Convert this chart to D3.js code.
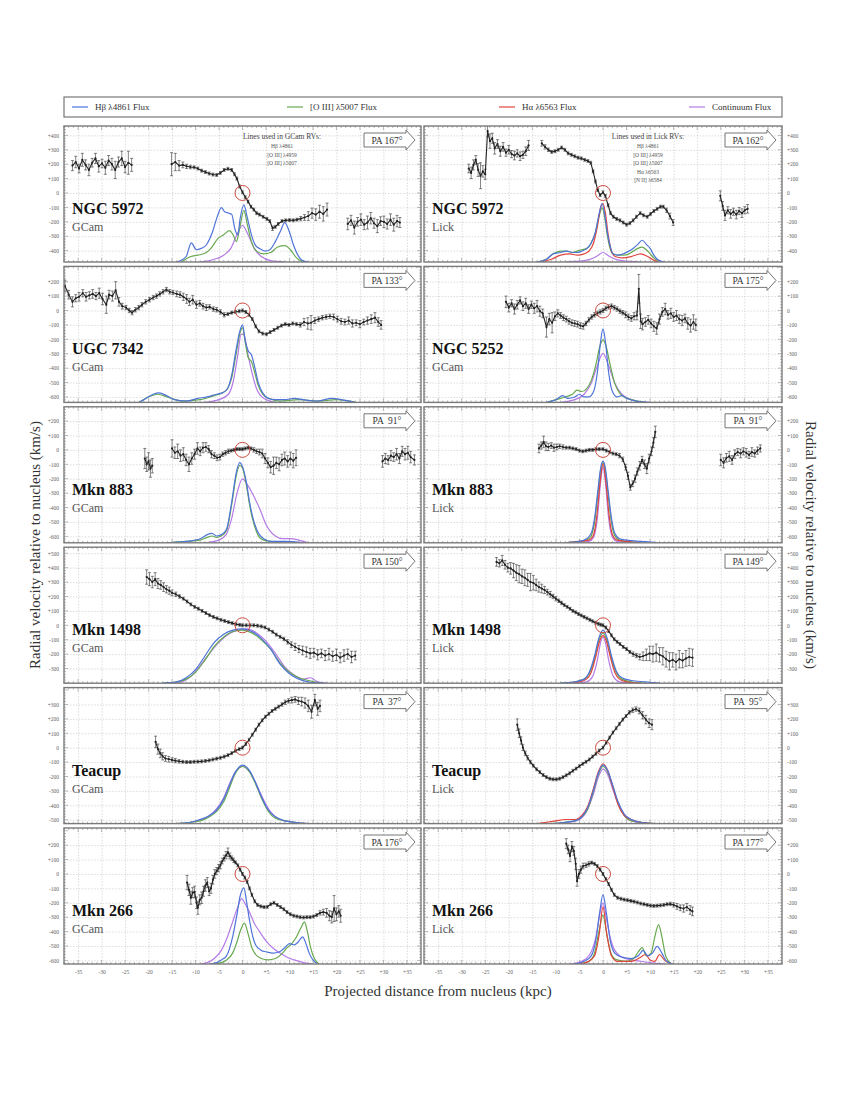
<!DOCTYPE html>
<html>
<head>
<meta charset="utf-8">
<script src="https://cdn.jsdelivr.net/npm/d3@7"></script>
<style>
  body { margin: 0; background: #fff; }
  text { font-family: "Liberation Serif", "Times New Roman", serif; }
</style>
</head>
<body>
<svg id="chart" width="845" height="1093"></svg>
<script>
// tick labels along the distance axis (kpc)
var xTicks = [-35, -30, -25, -20, -15, -10, -5, 0, 5, 10, 15, 20, 25, 30, 35];

var legendLabels = ["H\u03b2 \u03bb4861 Flux", "[O III] \u03bb5007 Flux", "H\u03b1 \u03bb6563 Flux", "Continuum Flux"];
var gcamLines = ["H\u03b2 \u03bb4861", "[O III] \u03bb4959", "[O III] \u03bb5007"];
var lickLines = ["H\u03b2 \u03bb4861", "[O III] \u03bb4959", "[O III] \u03bb5007", "H\u03b1 \u03bb6563", "[N II] \u03bb6584"];

// radial velocities: [kpc, km/s, error]
var ngc5972G_vel = [[-36.2,190,35],[-35.5,215,40],[-34.8,170,30],[-34.1,230,45],[-33.4,195,35],[-32.7,160,40],[-32.0,210,30],[-31.3,240,35],[-30.6,185,40],[-29.9,205,30],[-29.2,175,45],[-28.5,225,35],[-27.8,200,40],[-27.1,160,60],[-26.4,215,35],[-25.7,240,50],[-25.0,180,40],[-24.3,210,80],[-23.6,195,45],
  [-15.1,200,80],[-14.3,215,60],[-13.5,190,35],[-12.7,195,20],[-11.9,185,15],[-11.1,180,12],[-10.3,178,10],[-9.5,170,10],[-8.7,155,10],[-7.9,145,10],[-7.1,135,10],[-6.3,128,10],[-5.5,125,10],[-4.7,140,10],[-3.9,160,10],[-3.1,168,10],[-2.3,160,10],[-1.7,130,10],[-1.2,100,10],[-0.6,45,10],[0,5,10],[0.6,-30,10],[1.2,-60,10],[1.8,-95,10],[2.4,-115,10],[3.0,-140,10],[3.6,-150,10],[4.4,-165,10],[5.2,-180,10],[5.8,-195,10],[6.4,-245,15],[7.0,-235,10],[7.6,-215,10],[8.4,-195,10],[9.2,-190,10],[10.0,-188,10],[10.8,-190,10],[11.6,-185,10],[12.4,-178,15],[13.2,-170,20],[14.0,-160,30],[14.8,-140,35],[15.6,-150,40],[16.4,-130,45],[17.2,-145,50],[18.0,-115,45],
  [22.4,-215,40],[23.1,-190,35],[23.8,-240,45],[24.5,-200,30],[25.2,-185,40],[25.9,-220,35],[26.6,-205,45],[27.3,-175,40],[28.0,-210,35],[28.7,-230,45],[29.4,-195,30],[30.1,-200,40],[30.8,-215,35],[31.5,-185,40],[32.2,-220,45],[32.9,-195,40],[33.5,-205,35]];
var ngc5972L_vel = [[-28.5,170,30],[-28.0,140,40],[-27.5,195,35],[-27.0,230,30],[-26.5,160,45],[-26.0,120,90],[-25.5,150,40],[-25.0,130,35],[-24.5,430,40],[-24.0,360,50],[-23.5,380,35],[-23.0,310,40],[-22.4,340,30],[-21.8,290,35],[-21.2,320,30],[-20.6,280,25],[-20.0,300,30],[-19.4,270,25],[-18.8,260,30],[-18.2,275,25],[-17.6,255,30],[-17.0,265,25],[-16.4,290,30],[-15.8,330,35],
  [-13.0,345,20],[-12.3,320,15],[-11.6,300,12],[-10.9,285,10],[-10.2,290,10],[-9.5,300,10],[-8.8,315,10],[-8.1,300,10],[-7.4,275,10],[-6.7,265,10],[-6.0,255,10],[-5.3,245,10],[-4.6,240,10],[-3.9,230,10],[-3.2,222,10],[-2.6,210,10],[-2.1,150,10],[-1.6,80,10],[-1.1,20,10],[-0.6,-15,10],[0,5,10],[0.5,-20,10],[1.1,-85,10],[1.6,-140,10],[2.2,-165,10],[2.9,-180,10],[3.6,-190,10],[4.3,-205,10],[5.0,-220,10],[5.7,-210,10],[6.4,-190,10],[7.1,-165,10],[7.9,-140,10],[8.6,-155,10],[9.4,-165,10],[10.1,-145,10],[10.8,-125,10],[11.5,-110,10],[12.2,-95,10],[12.8,-95,10],[13.5,-120,15],[14.2,-160,20],[14.9,-205,20],
  [24.9,-20,35],[25.4,-90,30],[25.9,-155,35],[26.5,-120,25],[27.1,-145,30],[27.7,-130,25],[28.3,-150,30],[28.9,-125,25],[29.5,-140,30],[30.1,-120,25],[30.7,-110,30]];
var ugc7342G_vel = [[-37.8,170,40],[-37.0,110,30],[-36.2,60,35],[-35.5,85,25],[-34.8,95,30],[-34.0,120,25],[-33.3,95,30],[-32.6,105,25],[-31.9,115,30],[-31.2,100,25],[-30.5,120,35],[-29.8,80,40],[-29.0,40,60],[-28.4,110,30],[-27.7,100,35],[-27.0,140,60],[-26.3,60,30],[-25.6,30,20],[-24.8,20,15],[-24.1,0,15],[-23.5,-15,15],[-22.8,5,15],[-22.1,20,15],[-21.4,40,15],[-20.6,60,15],[-19.8,75,15],[-19.0,90,15],[-18.3,100,15],[-17.6,115,15],[-16.9,130,15],[-16.2,145,15],[-15.5,130,15],[-14.8,125,15],[-14.0,115,20],[-13.3,110,20],[-12.6,95,25],[-11.9,80,30],[-11.3,60,25],[-10.6,75,30],[-9.8,40,25],[-9.1,50,20],[-8.4,30,20],[-7.7,20,20],[-7.0,25,15],[-6.2,10,15],[-5.5,5,15],[-4.7,-10,15],[-3.9,-30,15],[-3.1,-25,10],[-2.3,-15,10],[-1.5,-10,10],[-0.7,-5,10],[0,0,10],[0.7,-10,10],[1.4,-30,10],[2.1,-60,10],[2.8,-110,10],[3.5,-145,10],[4.3,-160,10],[5.1,-165,10],[5.9,-150,10],[6.7,-135,10],[7.5,-120,10],[8.3,-105,10],[9.1,-95,10],[9.9,-100,10],[10.7,-90,10],[11.5,-95,10],[12.3,-100,15],[13.1,-80,25],[13.9,-90,40],[14.6,-85,50],[15.4,-70,20],[16.2,-60,15],[17.0,-50,15],[17.8,-45,15],[18.6,-40,15],[19.4,-45,20],[20.2,-60,20],[21.0,-75,20],[21.8,-80,20],[22.6,-70,25],[23.4,-90,25],[24.2,-85,20],[25.0,-95,25],[25.8,-80,20],[26.6,-70,25],[27.4,-60,30],[28.2,-50,35],[28.9,-80,30],[29.5,-100,30]];
var ngc5252G_vel = [[-20.6,60,40],[-20.0,20,30],[-19.4,50,25],[-18.8,10,35],[-18.2,40,30],[-17.6,70,25],[-17.0,30,30],[-16.4,50,35],[-15.8,10,30],[-15.2,40,25],[-14.6,15,35],[-14.0,30,40],[-13.4,-5,35],[-12.8,-20,30],[-12.0,-115,70],[-11.4,-60,40],[-10.8,-85,70],[-10.2,-40,30],[-9.6,-20,25],[-9.0,-35,20],[-8.4,-50,20],[-7.8,-60,20],[-7.2,-75,20],[-6.6,-85,20],[-6.0,-90,20],[-5.4,-95,20],[-4.8,-105,20],[-4.2,-110,20],[-3.6,-90,15],[-3.0,-65,15],[-2.4,-45,15],[-1.8,-30,15],[-1.2,-20,15],[-0.6,-10,15],[0,0,15],[0.6,15,15],[1.2,25,15],[1.8,30,15],[2.4,20,15],[3.0,10,15],[3.6,-5,15],[4.2,-15,15],[4.8,-30,20],[5.4,-45,20],[6.0,-55,20],[6.6,-40,25],[7.2,-35,30],[7.6,150,100],[8.0,-75,50],[8.4,-95,40],[9.0,-80,30],[9.6,-65,30],[10.2,-90,30],[10.8,-110,35],[11.4,-125,40],[12.0,-60,35],[12.6,-10,30],[13.2,10,40],[13.8,-30,30],[14.4,-20,35],[15.0,-45,30],[15.6,-35,35],[16.2,-60,30],[16.8,-70,35],[17.4,-55,30],[18.0,-90,40],[18.6,-105,45],[19.2,-80,50],[19.7,-100,40]];
var mkn883G_vel = [[-20.8,-60,70],[-20.4,-100,50],[-20.0,-80,60],[-19.6,-130,60],[-19.2,-110,50],
  [-15.0,10,60],[-14.4,-20,40],[-13.8,-10,50],[-13.2,-40,40],[-12.6,-30,45],[-12.0,-70,40],[-11.4,-100,50],[-10.8,-60,40],[-10.2,-30,35],[-9.6,10,40],[-9.0,-10,30],[-8.4,15,35],[-7.8,20,30],[-7.2,5,25],[-6.6,-30,25],[-6.0,-40,20],[-5.4,-55,20],[-4.8,-50,20],[-4.2,-30,15],[-3.6,-20,15],[-3.0,-10,15],[-2.4,-5,10],[-1.8,0,10],[-1.2,5,10],[-0.6,5,10],[0,5,10],[0.6,10,10],[1.2,15,10],[1.8,10,10],[2.4,0,15],[3.0,-10,15],[3.6,-15,20],[4.2,-25,30],[4.8,-60,35],[5.4,-90,35],[6.0,-120,40],[6.6,-110,60],[7.2,-90,40],[7.8,-100,45],[8.4,-70,40],[9.0,-60,45],[9.6,-80,40],[10.2,-60,45],[10.8,-75,50],[11.4,-55,55],
  [29.8,-80,40],[30.4,-60,35],[31.0,-70,30],[31.6,-40,35],[32.2,-50,30],[32.8,-30,40],[33.4,-60,35],[34.0,-10,35],[34.6,-30,40],[35.2,-20,45],[35.8,-50,40],[36.6,-70,35]];
var mkn883L_vel = [[-13.6,10,30],[-13.1,30,25],[-12.6,55,40],[-12.1,25,30],[-11.6,20,25],[-11.0,30,20],[-10.4,15,25],[-9.8,20,20],[-9.2,25,15],[-8.5,20,15],[-7.8,15,10],[-7.1,15,10],[-6.4,10,10],[-5.7,5,10],[-5.0,-5,10],[-4.3,-10,10],[-3.6,-5,10],[-2.9,0,10],[-2.2,0,10],[-1.5,5,10],[-0.8,5,10],[0,5,10],[0.7,-5,10],[1.4,-15,10],[2.1,-25,10],[2.8,-30,10],[3.5,-40,15],[4.2,-65,15],[4.8,-120,20],[5.3,-180,25],[5.8,-260,20],[6.3,-235,20],[6.8,-200,25],[7.3,-150,25],[7.8,-110,30],[8.3,-70,25],[8.8,-100,30],[9.3,-130,35],[9.8,-60,30],[10.3,-10,30],[10.7,50,35],[11.1,125,40],
  [25.0,-70,40],[25.6,-90,35],[26.2,-55,30],[26.8,-45,35],[27.4,-70,30],[28.0,-30,30],[28.6,-15,25],[29.2,-25,30],[29.8,-10,25],[30.4,-20,30],[31.0,-35,25],[31.6,-15,30],[32.2,-25,25],[32.8,-5,25],[33.4,10,25]];
var mkn1498G_vel = [[-20.4,335,50],[-19.8,320,45],[-19.2,300,40],[-18.6,320,45],[-18.0,290,35],[-17.4,280,30],[-16.8,265,30],[-16.2,250,25],[-15.6,240,25],[-15.0,225,20],[-14.2,215,15],[-13.4,200,12],[-12.6,185,10],[-11.8,165,10],[-11.0,145,10],[-10.2,128,10],[-9.4,115,10],[-8.6,100,10],[-7.8,85,10],[-7.0,70,10],[-6.2,58,10],[-5.4,48,10],[-4.6,38,10],[-3.8,30,10],[-3.0,22,10],[-2.2,15,10],[-1.4,8,10],[-0.6,3,10],[0,0,10],[0.8,0,10],[1.6,0,10],[2.4,0,10],[3.2,-3,10],[4.0,-8,10],[4.8,-15,10],[5.6,-30,10],[6.4,-45,10],[7.2,-65,10],[8.0,-80,10],[8.8,-95,12],[9.6,-115,15],[10.4,-135,20],[11.2,-150,25],[12.0,-165,25],[12.8,-175,30],[13.6,-185,35],[14.4,-195,35],[15.2,-190,30],[16.0,-205,35],[16.8,-195,30],[17.6,-210,35],[18.4,-200,40],[19.2,-215,35],[20.0,-205,40],[20.8,-225,35],[21.6,-210,40],[22.4,-200,35],[23.2,-220,40],[24.0,-210,30]];
var mkn1498L_vel = [[-22.6,440,30],[-22.0,430,25],[-21.4,450,35],[-20.8,420,30],[-20.2,400,30],[-19.6,395,40],[-19.0,380,50],[-18.4,365,55],[-17.8,355,60],[-17.2,340,50],[-16.6,330,55],[-16.0,315,45],[-15.4,300,60],[-14.8,295,50],[-14.2,280,40],[-13.6,265,35],[-13.0,255,30],[-12.4,245,25],[-11.8,230,20],[-11.2,215,20],[-10.6,200,15],[-10.0,185,15],[-9.4,170,12],[-8.8,155,12],[-8.2,140,10],[-7.6,128,10],[-7.0,115,10],[-6.4,100,10],[-5.8,90,10],[-5.2,78,10],[-4.6,68,10],[-4.0,58,10],[-3.4,48,10],[-2.8,38,10],[-2.2,28,10],[-1.6,18,10],[-1.0,10,10],[-0.5,4,10],[0,0,10],[0.6,-15,10],[1.2,-40,10],[1.8,-70,10],[2.4,-97,10],[3.0,-115,10],[3.6,-130,10],[4.3,-150,10],[5.0,-165,10],[5.7,-185,10],[6.4,-200,15],[7.1,-210,15],[7.8,-220,20],[8.5,-215,30],[9.2,-205,40],[9.9,-195,50],[10.6,-200,55],[11.3,-190,60],[12.0,-205,50],[12.7,-215,60],[13.4,-235,55],[14.1,-250,60],[14.8,-240,50],[15.5,-255,55],[16.2,-235,60],[16.9,-245,50],[17.6,-230,55],[18.3,-220,60],[19.0,-225,60]];
var teacupG_vel = [[-18.5,40,40],[-18.0,-10,35],[-17.5,-40,30],[-17.0,-60,25],[-16.4,-75,20],[-15.7,-80,20],[-15.0,-85,15],[-14.3,-90,15],[-13.5,-95,12],[-12.7,-98,10],[-11.9,-100,10],[-11.1,-100,10],[-10.3,-98,10],[-9.5,-97,10],[-8.7,-95,10],[-7.9,-92,10],[-7.1,-88,10],[-6.3,-82,10],[-5.5,-76,10],[-4.7,-70,10],[-3.9,-62,10],[-3.1,-52,10],[-2.3,-38,10],[-1.5,-22,10],[-0.7,-10,10],[0,0,10],[0.7,25,10],[1.4,55,10],[2.1,90,10],[2.8,125,10],[3.5,160,10],[4.2,190,10],[4.9,215,10],[5.6,235,10],[6.3,255,10],[7.0,270,10],[7.7,285,10],[8.4,300,12],[9.1,315,15],[9.8,325,15],[10.5,330,20],[11.2,335,20],[11.9,325,25],[12.6,320,30],[13.3,310,35],[14.0,290,40],[14.7,250,45],[15.4,330,40],[16.0,270,45],[16.5,290,40]];
var teacupL_vel = [[-18.2,160,40],[-17.8,100,30],[-17.4,50,25],[-17.0,0,20],[-16.5,-40,15],[-16.0,-70,15],[-15.4,-100,12],[-14.8,-125,10],[-14.1,-150,10],[-13.4,-170,10],[-12.7,-190,10],[-12.0,-205,10],[-11.3,-215,10],[-10.6,-220,10],[-9.9,-220,10],[-9.2,-215,10],[-8.5,-205,10],[-7.8,-192,10],[-7.1,-178,10],[-6.4,-160,10],[-5.7,-145,10],[-5.0,-128,10],[-4.3,-112,10],[-3.6,-98,10],[-2.9,-82,10],[-2.2,-62,10],[-1.5,-42,10],[-0.8,-20,10],[0,0,10],[0.7,35,10],[1.4,70,10],[2.1,105,10],[2.8,135,10],[3.5,165,10],[4.2,195,10],[4.9,220,10],[5.6,245,12],[6.3,260,15],[7.0,268,15],[7.7,255,20],[8.4,225,25],[9.1,195,30],[9.8,170,30],[10.4,160,35]];
var mkn266G_vel = [[-11.8,-60,50],[-11.4,-110,40],[-11.0,-165,45],[-10.6,-130,35],[-10.2,-125,40],[-9.8,-200,40],[-9.5,-235,45],[-9.1,-180,35],[-8.7,-165,40],[-8.3,-120,35],[-7.9,-80,40],[-7.5,-60,35],[-7.1,-120,30],[-6.7,-100,35],[-6.3,-40,30],[-5.9,0,30],[-5.5,20,25],[-5.1,40,25],[-4.7,60,25],[-4.3,90,20],[-3.9,110,20],[-3.5,130,25],[-3.1,150,30],[-2.7,125,20],[-2.3,110,15],[-1.9,95,15],[-1.5,80,10],[-1.0,60,10],[-0.5,30,10],[0,0,10],[0.5,-25,10],[1.0,-55,10],[1.5,-100,10],[2.0,-145,10],[2.6,-190,10],[3.2,-215,10],[3.9,-225,10],[4.6,-230,10],[5.3,-228,10],[6.0,-210,10],[6.7,-200,10],[7.4,-215,10],[8.1,-230,10],[8.8,-245,10],[9.5,-265,10],[10.2,-280,10],[10.9,-290,10],[11.6,-295,10],[12.3,-300,10],[13.0,-302,10],[13.7,-300,10],[14.4,-300,10],[15.1,-295,10],[15.8,-285,10],[16.5,-270,15],[17.2,-265,20],[17.9,-270,30],[18.5,-290,35],[19.0,-300,40],[19.5,-240,90],[20.0,-280,45],[20.5,-260,40],[20.9,-290,45]];
var mkn266L_vel = [[-7.8,210,35],[-7.4,170,30],[-7.0,125,40],[-6.6,190,35],[-6.2,160,30],[-5.8,70,40],[-5.5,-50,35],[-5.1,0,30],[-4.7,30,25],[-4.2,55,20],[-3.6,60,15],[-3.0,70,15],[-2.4,78,10],[-1.8,70,10],[-1.2,55,10],[-0.6,30,10],[0,0,10],[0.6,-35,10],[1.2,-70,10],[1.8,-110,10],[2.4,-145,10],[3.1,-165,10],[3.8,-172,10],[4.5,-178,10],[5.2,-182,10],[5.9,-187,10],[6.6,-192,10],[7.3,-198,10],[8.0,-205,10],[8.7,-210,10],[9.4,-215,10],[10.1,-220,10],[10.8,-222,10],[11.5,-220,10],[12.2,-218,10],[12.9,-215,10],[13.6,-210,10],[14.3,-208,12],[15.0,-215,15],[15.7,-225,20],[16.4,-235,20],[17.1,-240,25],[17.8,-230,25],[18.5,-250,30],[19.0,-260,30]];

// line fluxes, as [kpc, normalised flux]
var ngc5972G_hb = [[-14,0],[-12,0.04],[-10.9,0.14],[-9.8,0.09],[-8.8,0.1],[-7.7,0.125],[-6.4,0.22],[-5.4,0.33],[-4.5,0.40],[-3.8,0.37],[-3.0,0.36],[-2.3,0.35],[-1.6,0.24],[-1.0,0.2],[-0.5,0.32],[0.3,0.42],[1.0,0.33],[1.9,0.2],[2.8,0.12],[3.6,0.10],[4.8,0.08],[5.8,0.09],[7.0,0.15],[8.0,0.22],[9.0,0.29],[10.0,0.22],[10.8,0.13],[11.5,0.07],[12.8,0.01],[14,0]];
var ngc5972G_o3 = [[-13,0],[-11,0.04],[-9.5,0.05],[-7.7,0.07],[-6.5,0.11],[-5.3,0.17],[-4.0,0.2],[-2.8,0.23],[-2.0,0.2],[-1.3,0.15],[-0.6,0.25],[0.3,0.38],[1.0,0.28],[1.9,0.15],[3.0,0.08],[4.5,0.06],[6.0,0.07],[7.5,0.11],[9.0,0.12],[10.2,0.09],[11.5,0.03],[13,0]];
var ngc5972G_cont = [[-9,0],[-6,0.02],[-4,0.05],[-2.5,0.1],[-1.2,0.2],[0,0.27],[1.2,0.2],[2.5,0.1],[4,0.04],[6,0.01],[9,0]];
var ngc5972L_hb = [[-14,0],[-12,0.02],[-10.6,0.06],[-9,0.07],[-7.7,0.08],[-6.5,0.07],[-5.5,0.07],[-4.5,0.08],[-3.4,0.1],[-2.5,0.14],[-1.6,0.22],[-0.8,0.36],[-0.2,0.43],[0.4,0.34],[0.9,0.22],[1.5,0.12],[2.1,0.06],[3.2,0.05],[4.3,0.06],[5.5,0.08],[6.4,0.1],[7.4,0.13],[8.3,0.16],[9.2,0.13],[10,0.1],[10.8,0.05],[11.5,0.02],[13,0]];
var ngc5972L_o3 = [[-14,0],[-12,0.02],[-10.6,0.06],[-9,0.08],[-7.7,0.08],[-6.5,0.07],[-5.5,0.08],[-4.5,0.09],[-3.4,0.1],[-2.5,0.14],[-1.6,0.22],[-0.8,0.34],[-0.2,0.40],[0.4,0.32],[0.9,0.2],[1.5,0.1],[2.1,0.06],[3.2,0.05],[4.3,0.05],[5.5,0.06],[6.4,0.08],[7.4,0.1],[8.3,0.11],[9.2,0.09],[10,0.06],[10.8,0.03],[12,0]];
var ngc5972L_ha = [[-13,0],[-11,0.02],[-9,0.05],[-7,0.06],[-5.5,0.05],[-4,0.06],[-3,0.08],[-2,0.14],[-1.2,0.26],[-0.5,0.4],[0,0.43],[0.5,0.36],[1.1,0.2],[1.8,0.08],[2.6,0.04],[4,0.03],[6,0.04],[8,0.06],[9.5,0.04],[11,0.01],[12,0]];
var ngc5972L_cont = [[-8,0],[-4,0.01],[-2,0.03],[-1,0.05],[0,0.07],[1,0.05],[2,0.03],[4,0.01],[8,0]];
var ugc7342G_hb = [[-22,0],[-20.5,0.03],[-19,0.06],[-17.7,0.07],[-16.2,0.05],[-14.5,0.02],[-12,0.01],[-9.5,0.03],[-7.5,0.04],[-5.5,0.06],[-4.3,0.07],[-3.2,0.1],[-2.3,0.2],[-1.4,0.38],[-0.6,0.52],[0,0.57],[0.6,0.45],[1.2,0.38],[1.9,0.35],[2.6,0.26],[3.4,0.14],[4.3,0.07],[5.5,0.03],[7,0.02],[9,0.02],[11,0.03],[13,0.02],[16,0.01],[19,0.03],[21,0.02],[24,0]];
var ugc7342G_o3 = [[-22,0],[-20,0.04],[-18,0.06],[-16,0.04],[-13,0.01],[-9,0.02],[-6,0.05],[-4.3,0.07],[-3.2,0.1],[-2.3,0.18],[-1.4,0.35],[-0.6,0.5],[0,0.55],[0.6,0.44],[1.2,0.33],[1.9,0.3],[2.6,0.22],[3.4,0.12],[4.3,0.06],[5.5,0.03],[8,0.01],[12,0.02],[16,0.01],[20,0.02],[24,0]];
var ugc7342G_cont = [[-8,0],[-5,0.02],[-3,0.06],[-2,0.15],[-1,0.35],[-0.3,0.5],[0.3,0.5],[1,0.38],[2,0.22],[3,0.1],[4.5,0.03],[7,0]];
var ngc5252G_hb = [[-12,0],[-10,0.02],[-8.5,0.05],[-7.5,0.03],[-6,0.04],[-5,0.06],[-4,0.04],[-3,0.04],[-2,0.08],[-1.2,0.22],[-0.5,0.45],[0,0.54],[0.5,0.45],[1.2,0.22],[2,0.08],[3,0.04],[4,0.05],[5,0.03],[7,0.01],[10,0]];
var ngc5252G_o3 = [[-12,0],[-10,0.02],[-8,0.04],[-6.5,0.06],[-5.5,0.09],[-4.5,0.08],[-3.5,0.1],[-2.5,0.16],[-1.5,0.28],[-0.6,0.42],[0,0.46],[0.6,0.42],[1.5,0.28],[2.5,0.14],[3.5,0.07],[4.5,0.04],[6,0.02],[9,0]];
var ngc5252G_cont = [[-9,0],[-6,0.02],[-4,0.06],[-2.5,0.14],[-1.2,0.27],[0,0.36],[1.2,0.27],[2.5,0.14],[4,0.06],[6,0.02],[9,0]];
var mkn883G_hb = [[-16,0],[-12,0.01],[-9,0.03],[-7.5,0.06],[-6.5,0.07],[-5.5,0.05],[-4.5,0.06],[-3.4,0.1],[-2.3,0.3],[-1.3,0.52],[-0.6,0.59],[0,0.56],[0.8,0.45],[1.5,0.3],[2.1,0.2],[3,0.1],[3.6,0.06],[4.5,0.03],[6,0.01],[9,0.01],[13,0]];
var mkn883G_o3 = [[-16,0],[-12,0.01],[-9,0.02],[-7.5,0.04],[-6.5,0.05],[-5.5,0.04],[-4.5,0.05],[-3.4,0.09],[-2.3,0.28],[-1.3,0.5],[-0.6,0.57],[0,0.55],[0.8,0.43],[1.5,0.28],[2.1,0.18],[3,0.08],[3.6,0.04],[4.5,0.02],[6,0.01],[8,0]];
var mkn883G_cont = [[-8,0],[-5,0.02],[-3.5,0.06],[-2.3,0.18],[-1.2,0.36],[0,0.47],[1,0.43],[2,0.37],[3,0.3],[3.8,0.24],[4.8,0.15],[5.8,0.09],[7,0.05],[8.5,0.03],[10,0.03],[12,0.02],[14,0]];
var mkn883L_hb = [[-8,0],[-5,0.01],[-3.5,0.03],[-2.5,0.07],[-1.8,0.18],[-1.1,0.38],[-0.5,0.55],[0,0.6],[0.5,0.55],[1.1,0.38],[1.8,0.18],[2.5,0.07],[3.5,0.03],[5,0.02],[8,0.01],[12,0]];
var mkn883L_o3 = [[-8,0],[-5,0.01],[-3.5,0.02],[-2.5,0.05],[-1.8,0.15],[-1.1,0.35],[-0.5,0.53],[0,0.59],[0.5,0.53],[1.1,0.35],[1.8,0.15],[2.5,0.05],[3.5,0.02],[5,0.01],[8,0]];
var mkn883L_ha = [[-8,0],[-5,0.01],[-3,0.02],[-2,0.06],[-1.3,0.2],[-0.6,0.45],[0,0.58],[0.6,0.45],[1.3,0.2],[2,0.06],[3,0.02],[5,0.01],[8,0]];
var mkn883L_cont = [[-6,0],[-3,0.01],[-2,0.04],[-1.2,0.18],[-0.5,0.45],[0,0.56],[0.5,0.45],[1.2,0.18],[2,0.04],[3,0.01],[6,0]];
var mkn1498G_hb = [[-17,0],[-14,0.01],[-12,0.04],[-10,0.1],[-8,0.2],[-6,0.3],[-4,0.36],[-2,0.39],[0,0.4],[2,0.38],[4,0.33],[6,0.25],[8,0.14],[10,0.07],[12,0.03],[14,0.01],[17,0]];
var mkn1498G_o3 = [[-17,0],[-14,0.01],[-12,0.03],[-10,0.08],[-8,0.17],[-6,0.27],[-4,0.34],[-2,0.38],[0,0.39],[2,0.37],[4,0.32],[6,0.25],[8,0.15],[10,0.08],[12,0.04],[14,0.02],[17,0]];
var mkn1498G_cont = [[-16,0],[-13,0.01],[-11,0.05],[-9,0.13],[-7,0.22],[-5,0.3],[-3,0.36],[-1,0.39],[1,0.4],[3,0.37],[5,0.31],[7,0.22],[9,0.12],[11,0.06],[13,0.03],[14.5,0.04],[16,0.01],[18,0]];
var mkn1498L_hb = [[-9,0],[-6,0.01],[-4,0.03],[-2.8,0.09],[-1.8,0.2],[-0.9,0.33],[0,0.39],[0.9,0.33],[1.8,0.2],[2.8,0.09],[4,0.04],[6,0.02],[9,0.01],[12,0]];
var mkn1498L_o3 = [[-9,0],[-6,0.01],[-4,0.03],[-2.8,0.08],[-1.8,0.18],[-0.9,0.31],[0,0.37],[0.9,0.31],[1.8,0.18],[2.8,0.08],[4,0.03],[6,0.01],[9,0]];
var mkn1498L_ha = [[-8,0],[-5,0.01],[-3.5,0.03],[-2.5,0.08],[-1.5,0.2],[-0.7,0.31],[0,0.35],[0.7,0.31],[1.5,0.2],[2.5,0.08],[3.5,0.03],[5,0.01],[8,0]];
var mkn1498L_cont = [[-6,0],[-3.5,0.01],[-2.2,0.05],[-1.2,0.17],[-0.5,0.3],[0,0.34],[0.5,0.3],[1.2,0.17],[2.2,0.05],[3.5,0.01],[6,0]];
var teacupG_hb = [[-14,0],[-11,0.01],[-9,0.03],[-7,0.06],[-5.5,0.1],[-4,0.18],[-2.8,0.28],[-1.5,0.38],[0,0.43],[1.5,0.39],[2.8,0.3],[4,0.2],[5.5,0.1],[7,0.05],[9,0.02],[11,0.01],[14,0]];
var teacupG_o3 = [[-14,0],[-11,0.01],[-9,0.02],[-7,0.05],[-5.5,0.09],[-4,0.16],[-2.8,0.26],[-1.5,0.37],[0,0.42],[1.5,0.38],[2.8,0.29],[4,0.19],[5.5,0.09],[7,0.04],[9,0.02],[11,0.01],[14,0]];
var teacupG_cont = [[-14,0],[-11,0.01],[-9,0.03],[-7,0.06],[-5.5,0.11],[-4,0.19],[-2.8,0.29],[-1.5,0.38],[0,0.42],[1.5,0.38],[2.8,0.3],[4,0.21],[5.5,0.11],[7,0.05],[9,0.02],[11,0.01],[14,0]];
var teacupL_hb = [[-11,0],[-8,0.01],[-6,0.02],[-4.5,0.05],[-3.2,0.12],[-2,0.25],[-1,0.37],[0,0.43],[1,0.39],[2,0.29],[3.2,0.16],[4.5,0.07],[6,0.03],[8,0.01],[11,0]];
var teacupL_o3 = [[-11,0],[-8,0.01],[-6,0.02],[-4.5,0.05],[-3.2,0.11],[-2,0.24],[-1,0.36],[0,0.42],[1,0.38],[2,0.28],[3.2,0.15],[4.5,0.06],[6,0.02],[8,0.01],[11,0]];
var teacupL_ha = [[-14,0],[-12,0.01],[-10,0.02],[-8,0.03],[-6,0.03],[-4.5,0.06],[-3.2,0.13],[-2,0.26],[-1,0.38],[0,0.44],[1,0.39],[2,0.28],[3.2,0.14],[4.5,0.06],[6,0.03],[8,0.01],[11,0]];
var teacupL_cont = [[-10,0],[-7,0.01],[-5,0.03],[-3.5,0.09],[-2,0.22],[-1,0.34],[0,0.4],[1,0.36],[2,0.26],[3.5,0.12],[5,0.04],[7,0.01],[10,0]];
var mkn266G_hb = [[-7,0],[-5.5,0.01],[-4.5,0.03],[-3.4,0.06],[-2.1,0.2],[-1.2,0.36],[-0.5,0.5],[0.3,0.56],[0.9,0.45],[1.5,0.32],[2.2,0.2],[2.8,0.14],[4,0.1],[5,0.09],[6.5,0.08],[7.9,0.09],[9,0.12],[10,0.15],[11,0.14],[11.8,0.16],[12.8,0.2],[13.5,0.15],[14.2,0.08],[15,0.03],[16,0]];
var mkn266G_o3 = [[-6,0],[-4.5,0.01],[-3.4,0.03],[-2.1,0.08],[-1.2,0.16],[-0.4,0.25],[0.4,0.3],[1.2,0.22],[2,0.12],[2.8,0.07],[4,0.04],[5.5,0.03],[7,0.04],[8.5,0.08],[9.5,0.12],[10.5,0.15],[11.5,0.2],[12.5,0.27],[13.2,0.31],[13.8,0.24],[14.5,0.12],[15.3,0.04],[16.3,0]];
var mkn266G_cont = [[-9,0],[-7.5,0.01],[-6,0.04],[-4.5,0.1],[-3.2,0.2],[-2.1,0.31],[-1,0.42],[-0.2,0.48],[0.6,0.44],[1.5,0.38],[2.5,0.3],[3.6,0.24],[5,0.17],[6.4,0.12],[8,0.08],[9.5,0.05],[11,0.03],[13,0.01],[15,0]];
var mkn266L_hb = [[-6,0],[-4,0.02],[-2.5,0.06],[-1.5,0.18],[-0.7,0.38],[0,0.51],[0.7,0.38],[1.5,0.18],[2.5,0.08],[4,0.05],[6,0.04],[7.5,0.06],[8.5,0.1],[9.5,0.06],[10.5,0.08],[11.5,0.13],[12.5,0.08],[13.5,0.02],[15,0]];
var mkn266L_o3 = [[-5,0],[-3,0.02],[-1.8,0.08],[-0.8,0.25],[0,0.36],[0.8,0.22],[1.8,0.07],[3,0.03],[5,0.02],[6.5,0.04],[7.5,0.09],[8.3,0.12],[9.2,0.06],[10.2,0.08],[11,0.2],[11.8,0.29],[12.5,0.2],[13.3,0.06],[14.5,0]];
var mkn266L_ha = [[-5,0],[-3,0.02],[-1.8,0.06],[-0.8,0.22],[0,0.42],[0.8,0.22],[1.8,0.06],[3,0.02],[6,0.02],[8,0.05],[9,0.07],[10,0.03],[11,0.02],[12,0.07],[13,0.03],[14.5,0]];
var mkn266L_cont = [[-7,0],[-4.5,0.02],[-2.8,0.07],[-1.5,0.2],[-0.6,0.38],[0,0.45],[0.7,0.34],[1.5,0.2],[2.5,0.1],[4,0.05],[6,0.03],[8,0.02],[10,0.01],[13,0]];

// layout
var config = {
  cols: [[64, 421], [424, 782]],
  top: 126,
  rowStep: 140.4,
  h: 136,
  vSpan: 944,
  rowTop: [465, 306, 299, 542, 417, 319]   // velocity at the top edge of each row
};

var colors = { hb: "#4f74d9", o3: "#68a94f", ha: "#e0453d", cont: "#b47be6" };
var fluxOrder = ["cont", "o3", "ha", "hb"];

var panels = [
  {row: 0, col: 0, name: "NGC 5972", inst: "GCam", pa: "PA 167\u00b0", vel: ngc5972G_vel, hb: ngc5972G_hb, o3: ngc5972G_o3, cont: ngc5972G_cont, lines: gcamLines},
  {row: 0, col: 1, name: "NGC 5972", inst: "Lick", pa: "PA 162\u00b0", vel: ngc5972L_vel, hb: ngc5972L_hb, o3: ngc5972L_o3, ha: ngc5972L_ha, cont: ngc5972L_cont, lines: lickLines},
  {row: 1, col: 0, name: "UGC 7342", inst: "GCam", pa: "PA 133\u00b0", vel: ugc7342G_vel, hb: ugc7342G_hb, o3: ugc7342G_o3, cont: ugc7342G_cont},
  {row: 1, col: 1, name: "NGC 5252", inst: "GCam", pa: "PA 175\u00b0", vel: ngc5252G_vel, hb: ngc5252G_hb, o3: ngc5252G_o3, cont: ngc5252G_cont},
  {row: 2, col: 0, name: "Mkn 883", inst: "GCam", pa: "PA  91\u00b0", vel: mkn883G_vel, hb: mkn883G_hb, o3: mkn883G_o3, cont: mkn883G_cont},
  {row: 2, col: 1, name: "Mkn 883", inst: "Lick", pa: "PA  91\u00b0", vel: mkn883L_vel, hb: mkn883L_hb, o3: mkn883L_o3, ha: mkn883L_ha, cont: mkn883L_cont},
  {row: 3, col: 0, name: "Mkn 1498", inst: "GCam", pa: "PA 150\u00b0", vel: mkn1498G_vel, hb: mkn1498G_hb, o3: mkn1498G_o3, cont: mkn1498G_cont},
  {row: 3, col: 1, name: "Mkn 1498", inst: "Lick", pa: "PA 149\u00b0", vel: mkn1498L_vel, hb: mkn1498L_hb, o3: mkn1498L_o3, ha: mkn1498L_ha, cont: mkn1498L_cont},
  {row: 4, col: 0, name: "Teacup", inst: "GCam", pa: "PA  37\u00b0", vel: teacupG_vel, hb: teacupG_hb, o3: teacupG_o3, cont: teacupG_cont},
  {row: 4, col: 1, name: "Teacup", inst: "Lick", pa: "PA  95\u00b0", vel: teacupL_vel, hb: teacupL_hb, o3: teacupL_o3, ha: teacupL_ha, cont: teacupL_cont},
  {row: 5, col: 0, name: "Mkn 266", inst: "GCam", pa: "PA 176\u00b0", vel: mkn266G_vel, hb: mkn266G_hb, o3: mkn266G_o3, cont: mkn266G_cont},
  {row: 5, col: 1, name: "Mkn 266", inst: "Lick", pa: "PA 177\u00b0", vel: mkn266L_vel, hb: mkn266L_hb, o3: mkn266L_o3, ha: mkn266L_ha, cont: mkn266L_cont}
];

var svg = d3.select("#chart");

function signed(d) { return d > 0 ? "+" + d : String(d); }

// split a velocity run where there is a gap in the slit coverage
function segments(pts) {
  var out = [], cur = [];
  pts.forEach(function(p, i) {
    if (i > 0 && p[0] - pts[i - 1][0] > 2.5) { out.push(cur); cur = []; }
    cur.push(p);
  });
  out.push(cur);
  return out;
}

// legend
var legend = svg.append("g");
legend.append("rect").attr("x", 64).attr("y", 97).attr("width", 718).attr("height", 20)
  .attr("fill", "none").attr("stroke", "#777").attr("stroke-width", 1.2);
var legendX = [72, 287, 499, 689];
["hb", "o3", "ha", "cont"].forEach(function(k, i) {
  legend.append("line").attr("x1", legendX[i]).attr("x2", legendX[i] + 16)
    .attr("y1", 107).attr("y2", 107).attr("stroke", colors[k]).attr("stroke-width", 1.2);
  legend.append("text").attr("x", legendX[i] + 23).attr("y", 110)
    .attr("font-size", 9).attr("fill", "#333").text(legendLabels[i]);
});

panels.forEach(function(p) {
  var x0 = config.cols[p.col][0], x1 = config.cols[p.col][1];
  var top = config.top + p.row * config.rowStep, bottom = top + config.h;
  var w = x1 - x0;
  var vMax = config.rowTop[p.row];

  var x = d3.scaleLinear().domain([-38, 38]).range([x0, x1]);
  var y = d3.scaleLinear().domain([vMax - config.vSpan, vMax]).range([bottom, top]);
  var f = d3.scaleLinear().domain([0, 1]).range([bottom, top]);

  var g = svg.append("g");
  var clipId = "clip" + p.row + p.col;
  g.append("clipPath").attr("id", clipId).append("rect")
    .attr("x", x0).attr("y", top).attr("width", w).attr("height", config.h);

  // grid via axes
  var yTicks = y.ticks(10).filter(function(v) { return y(v) > top + 3 && y(v) < bottom - 3; });
  var yAxis = (p.col === 0 ? d3.axisLeft(y) : d3.axisRight(y))
    .tickValues(yTicks).tickSize(-w).tickPadding(5).tickFormat(signed);
  var yg = g.append("g").attr("transform", "translate(" + (p.col === 0 ? x0 : x1) + ",0)").call(yAxis);
  yg.select(".domain").remove();
  yg.selectAll("line").attr("stroke", "#c4c4c4").attr("stroke-width", 0.6).attr("stroke-dasharray", "1.5,1.5");
  yg.selectAll("text").attr("font-size", 5.5).attr("fill", "#666")
    .attr("font-family", "Liberation Serif, serif");

  var xAxis = d3.axisBottom(x).tickValues(xTicks).tickSize(-config.h).tickPadding(6)
    .tickFormat(p.row === 5 ? signed : "");
  var xg = g.append("g").attr("transform", "translate(0," + bottom + ")").call(xAxis);
  xg.select(".domain").remove();
  xg.selectAll("line").attr("stroke", "#c4c4c4").attr("stroke-width", 0.6).attr("stroke-dasharray", "1.5,1.5");
  xg.selectAll("text").attr("font-size", 5.5).attr("fill", "#666")
    .attr("font-family", "Liberation Serif, serif");

  // frame ticks
  var minorX = x.ticks(76);
  g.selectAll(".mxt").data(minorX).enter().append("line")
    .attr("x1", function(d) { return x(d); }).attr("x2", function(d) { return x(d); })
    .attr("y1", top).attr("y2", function(d) { return top + (d % 5 === 0 ? 4 : 2); })
    .attr("stroke", "#777").attr("stroke-width", 0.5);
  g.selectAll(".mxb").data(minorX).enter().append("line")
    .attr("x1", function(d) { return x(d); }).attr("x2", function(d) { return x(d); })
    .attr("y1", bottom).attr("y2", function(d) { return bottom - (d % 5 === 0 ? 4 : 2); })
    .attr("stroke", "#777").attr("stroke-width", 0.5);
  var minorY = y.ticks(40);
  [x0, x1].forEach(function(ex, side) {
    g.selectAll(".myt" + side).data(minorY).enter().append("line")
      .attr("x1", ex).attr("x2", function(d) { var l = d % 100 === 0 ? 4 : 2; return side ? ex - l : ex + l; })
      .attr("y1", function(d) { return y(d); }).attr("y2", function(d) { return y(d); })
      .attr("stroke", "#777").attr("stroke-width", 0.5);
  });

  // flux profiles
  var fluxLine = d3.line().curve(d3.curveMonotoneX)
    .x(function(d) { return x(d[0]); }).y(function(d) { return f(d[1]); });
  var fg = g.append("g").attr("clip-path", "url(#" + clipId + ")");
  fluxOrder.forEach(function(k) {
    if (!p[k]) return;
    fg.append("path").attr("d", fluxLine(p[k])).attr("fill", "none")
      .attr("stroke", colors[k]).attr("stroke-width", 1.2);
  });

  // velocity curve with error bars
  var vg = g.append("g").attr("clip-path", "url(#" + clipId + ")");
  var velLine = d3.line().x(function(d) { return x(d[0]); }).y(function(d) { return y(d[1]); });
  vg.selectAll(".err").data(p.vel).enter().append("path")
    .attr("d", function(d) {
      var cx = x(d[0]), yt = y(d[1] + d[2]), yb = y(d[1] - d[2]);
      return "M" + cx + "," + yt + "V" + yb + "M" + (cx - 1.5) + "," + yt + "H" + (cx + 1.5) +
        "M" + (cx - 1.5) + "," + yb + "H" + (cx + 1.5);
    })
    .attr("stroke", "#333").attr("stroke-width", 0.6).attr("fill", "none");
  segments(p.vel).forEach(function(seg) {
    vg.append("path").attr("d", velLine(seg)).attr("fill", "none")
      .attr("stroke", "#222").attr("stroke-width", 1.1);
  });
  vg.selectAll(".pt").data(p.vel).enter().append("circle")
    .attr("cx", function(d) { return x(d[0]); }).attr("cy", function(d) { return y(d[1]); })
    .attr("r", 1.1).attr("fill", "#222");

  // nucleus marker
  g.append("circle").attr("cx", x(0)).attr("cy", y(0)).attr("r", 7.5)
    .attr("fill", "none").attr("stroke", "#cc4a40").attr("stroke-width", 1);

  // frame
  g.append("rect").attr("x", x0).attr("y", top).attr("width", w).attr("height", config.h)
    .attr("fill", "none").attr("stroke", "#7a7a7a").attr("stroke-width", 1.4);

  // labels
  g.append("text").attr("x", x0 + 8).attr("y", top + 88).attr("font-size", 16)
    .attr("font-weight", "bold").attr("fill", "#111").text(p.name);
  g.append("text").attr("x", x0 + 8).attr("y", top + 105).attr("font-size", 12)
    .attr("fill", "#555").text(p.inst);

  // position angle arrow
  var bx = x1 - 57, by = top + 5, bw = 42, bh = 16, tip = x1 - 6;
  g.append("path")
    .attr("d", "M" + bx + "," + (by + 2) + "H" + (bx + bw) + "V" + (by - 1) + "L" + tip + "," + (by + bh / 2 + 1) +
      "L" + (bx + bw) + "," + (by + bh + 3) + "V" + (by + bh) + "H" + bx + "Z")
    .attr("fill", "#fff").attr("stroke", "#666").attr("stroke-width", 0.9);
  g.append("text").attr("x", bx + bw / 2 + 2).attr("y", by + 12.5).attr("text-anchor", "middle")
    .attr("font-size", 9.5).attr("fill", "#333").attr("xml:space", "preserve").text(p.pa);

  if (p.lines) {
    var cx = x0 + (p.col === 0 ? 218 : 224);
    g.append("text").attr("x", cx).attr("y", top + 13).attr("text-anchor", "middle")
      .attr("font-size", 7.5).attr("fill", "#444")
      .text("Lines used in " + p.inst + " RVs:");
    g.selectAll(".ln").data(p.lines).enter().append("text")
      .attr("x", cx).attr("y", function(d, i) { return top + 22 + i * 8.5; })
      .attr("text-anchor", "middle").attr("font-size", 5.5).attr("fill", "#555")
      .text(function(d) { return d; });
  }
});

// axis titles
svg.append("text").attr("transform", "translate(40,545) rotate(-90)").attr("text-anchor", "middle")
  .attr("font-size", 15).attr("fill", "#333").text("Radial velocity relative to nucleus (km/s)");
svg.append("text").attr("transform", "translate(806,545) rotate(90)").attr("text-anchor", "middle")
  .attr("font-size", 15).attr("fill", "#333").text("Radial velocity relative to nucleus (km/s)");
svg.append("text").attr("x", 438).attr("y", 996).attr("text-anchor", "middle")
  .attr("font-size", 15).attr("fill", "#333").text("Projected distance from nucleus (kpc)");
</script>
</body>
</html>
